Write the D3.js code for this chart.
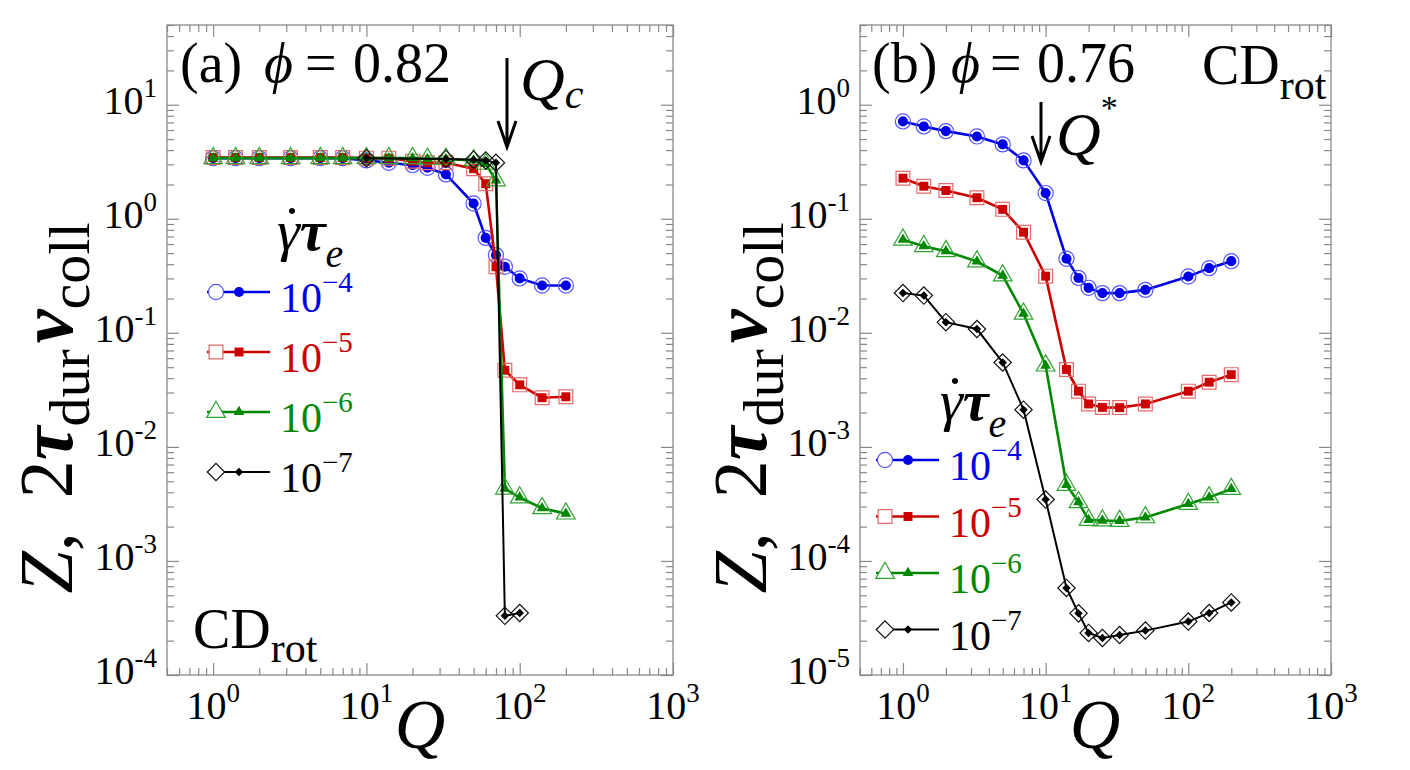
<!DOCTYPE html>
<html>
<head>
<meta charset="utf-8">
<script src="https://cdn.jsdelivr.net/npm/d3@7.9.0/dist/d3.min.js"></script>
<style>
  body { margin: 0; background: #fff; }
  svg, svg text { font-family: "Liberation Serif", "Times New Roman", Times, "DejaVu Serif", serif; }
</style>
</head>
<body>
<svg id="fig" width="1410" height="770"></svg>
<script>
// ---- data ----
const rateExp = ["4", "5", "6", "7"];
const lineColors = ["#0000e6", "#cc0000", "#008800", "#000000"];
const openColors = ["#5555ff", "#e86a6a", "#2fa32f", "#111111"];

// panel (a), phi = 0.82
const qA = [1, 1.4, 2, 3.2, 5, 7, 10, 14, 20, 25, 33, 50, 60, 70, 80, 100, 140, 200];
const qA7 = [10, 33, 50, 60, 70, 80, 100];
const zA4 = [3.4, 3.4, 3.4, 3.4, 3.4, 3.4, 3.25, 3.1, 2.95, 2.8, 2.45, 1.36, 0.68, 0.48, 0.38, 0.30, 0.26, 0.26];
const zA5 = [3.45, 3.45, 3.45, 3.45, 3.45, 3.45, 3.4, 3.4, 3.2, 3.1, 3.1, 2.75, 2.03, 0.38, 0.047, 0.035, 0.027, 0.0275];
const zA6 = [3.4, 3.4, 3.4, 3.4, 3.4, 3.4, 3.4, 3.4, 3.4, 3.35, 3.35, 3.25, 3.03, 2.17, 0.0043, 0.0036, 0.0029, 0.0026];
const zA7 = [3.4, 3.35, 3.3, 3.25, 3.1, 0.00033, 0.00035];

// panel (b), phi = 0.76
const qB = [1, 1.4, 2, 3.3, 5, 7, 10, 14, 17, 20, 25, 33, 50, 100, 140, 200];
const zB4 = [0.714, 0.645, 0.587, 0.527, 0.449, 0.325, 0.168, 0.0446, 0.0303, 0.0248, 0.0223, 0.0223, 0.0238, 0.0312, 0.0369, 0.0425];
const zB5 = [0.227, 0.193, 0.177, 0.153, 0.121, 0.0763, 0.0314, 0.00477, 0.00308, 0.00238, 0.00222, 0.00221, 0.00238, 0.00308, 0.00369, 0.0043];
const zB6 = [0.0655, 0.0575, 0.052, 0.0422, 0.0318, 0.0147, 0.00516, 4.64e-4, 3.27e-4, 2.29e-4, 2.26e-4, 2.24e-4, 2.41e-4, 3.16e-4, 3.61e-4, 4.28e-4];
const zB7 = [0.0223, 0.0212, 0.0124, 0.0108, 0.0055, 0.00212, 3.45e-4, 5.8e-5, 3.47e-5, 2.34e-5, 2.11e-5, 2.24e-5, 2.45e-5, 2.94e-5, 3.5e-5, 4.33e-5];

const xExpLabels = [0, 1, 2, 3];
const yExpLabelsA = [1, 0, -1, -2, -3, -4];
const yExpLabelsB = [0, -1, -2, -3, -4, -5];

const svg = d3.select("#fig");

// marker shapes: open (big, thin outline) and filled (small)
const openSym = [
  d3.symbol(d3.symbolCircle, 180),
  d3.symbol(d3.symbolSquare, 190),
  d3.symbol(d3.symbolTriangle, 150),
  d3.symbol(d3.symbolSquare, 150)
];
const fillSym = [
  d3.symbol(d3.symbolCircle, 80),
  d3.symbol(d3.symbolSquare, 80),
  d3.symbol(d3.symbolTriangle, 50),
  d3.symbol(d3.symbolSquare, 36)
];
const rot = i => (i === 3 ? " rotate(45)" : "");

function minorTicks(domain) {
  const out = [];
  const lo = Math.floor(Math.log10(domain[0]));
  const hi = Math.ceil(Math.log10(domain[1]));
  for (let d = lo; d <= hi; d++) {
    for (let k = 2; k <= 9; k++) {
      const v = k * Math.pow(10, d);
      if (v >= domain[0] && v <= domain[1]) out.push(v);
    }
  }
  return out;
}
function majorTicks(domain) {
  const out = [];
  for (let d = Math.ceil(Math.log10(domain[0])); d <= Math.floor(Math.log10(domain[1])); d++) out.push(Math.pow(10, d));
  return out;
}

function drawPanel(cfg) {
  const x = d3.scaleLog().domain(cfg.xDomain).range([cfg.left, cfg.right]);
  const y = d3.scaleLog().domain(cfg.yDomain).range([cfg.bottom, cfg.top]);
  const g = svg.append("g");

  // tick marks on all four sides, pointing inward
  const axes = [
    [d3.axisBottom(x), `translate(0,${cfg.bottom})`, "x"],
    [d3.axisTop(x), `translate(0,${cfg.top})`, "x"],
    [d3.axisLeft(y), `translate(${cfg.left},0)`, "y"],
    [d3.axisRight(y), `translate(${cfg.right},0)`, "y"]
  ];
  axes.forEach(([ax, tr, dim]) => {
    const dom = dim === "x" ? cfg.xDomain : cfg.yDomain;
    [[minorTicks(dom), 7], [majorTicks(dom), 12]].forEach(([vals, len]) => {
      const a = g.append("g").attr("transform", tr)
        .call(ax.tickValues(vals).tickSizeInner(-len).tickSizeOuter(0).tickFormat(""));
      a.select(".domain").remove();
      a.selectAll("line").attr("stroke", "#888").attr("stroke-width", 1.2);
    });
  });
  g.append("rect")
    .attr("x", cfg.left).attr("y", cfg.top)
    .attr("width", cfg.right - cfg.left).attr("height", cfg.bottom - cfg.top)
    .attr("fill", "none").attr("stroke", "#888").attr("stroke-width", 1.3);

  // tick labels
  xExpLabels.forEach(e => {
    const t = g.append("text").attr("x", x(Math.pow(10, e))).attr("y", cfg.bottom + 44)
      .attr("text-anchor", "middle").attr("font-size", 40).text("10");
    t.append("tspan").attr("font-size", 27).attr("dy", -17).text(e);
  });
  cfg.yLabels.forEach(e => {
    const t = g.append("text").attr("x", cfg.left - 10).attr("y", y(Math.pow(10, e)) + 9)
      .attr("text-anchor", "end").attr("font-size", 40).text("10");
    t.append("tspan").attr("font-size", 27).attr("dy", -17).text(e < 0 ? "-" + (-e) : e);
  });

  // axis titles
  const yt = g.append("text")
    .attr("transform", `translate(${cfg.yTitleX},${cfg.yTitleY}) rotate(-90)`)
    .attr("text-anchor", "middle").attr("font-size", 76);
  yt.append("tspan").attr("font-style", "italic").text("Z");
  yt.append("tspan").text(",");
  yt.append("tspan").attr("dx", 34).text("2");
  yt.append("tspan").attr("font-style", "italic").attr("font-weight", "bold").text("τ");
  yt.append("tspan").attr("font-size", 58).attr("dy", 17).text("dur");
  yt.append("tspan").attr("font-style", "italic").attr("font-weight", "bold").attr("dx", 6).attr("dy", -17).text("ν");
  yt.append("tspan").attr("font-size", 58).attr("dy", 17).text("coll");

  g.append("text").attr("x", cfg.qTitleX).attr("y", 748)
    .attr("text-anchor", "middle").attr("font-size", 70).attr("font-style", "italic").text("Q");

  // data series
  const line = d3.line().x(d => x(d[0])).y(d => y(d[1]));
  cfg.series.forEach((s, i) => {
    const pts = s.q.map((q, j) => [q, s.z[j]]);
    g.append("path").datum(pts).attr("d", line)
      .attr("fill", "none").attr("stroke", lineColors[i])
      .attr("stroke-width", i === 3 ? 2 : 2.6);
    g.selectAll(null).data(pts).join("path")
      .attr("transform", d => `translate(${x(d[0])},${y(d[1])})` + rot(i))
      .attr("d", openSym[i]).attr("fill", "none")
      .attr("stroke", openColors[i]).attr("stroke-width", 1.2);
    g.selectAll(null).data(pts).join("path")
      .attr("transform", d => `translate(${x(d[0])},${y(d[1])})` + rot(i))
      .attr("d", fillSym[i]).attr("fill", lineColors[i]);
  });

  // legend
  const lg = cfg.legend;
  const lt = g.append("text").attr("x", lg.titleX).attr("y", lg.titleY).attr("font-size", 58);
  lt.append("tspan").attr("font-style", "italic").text("γ");
  lt.append("tspan").attr("font-style", "italic").attr("font-weight", "bold").text("τ");
  lt.append("tspan").attr("font-style", "italic").attr("font-size", 40).attr("dy", 17).text("e");
  g.append("text").attr("x", lg.titleX + 15).attr("y", lg.titleY - 4)
    .attr("text-anchor", "middle").attr("font-size", 58).text("˙");

  rateExp.forEach((r, i) => {
    const ry = lg.y0 + i * lg.dy;
    g.append("line").attr("x1", lg.x0).attr("x2", lg.x0 + 63).attr("y1", ry).attr("y2", ry)
      .attr("stroke", lineColors[i]).attr("stroke-width", i === 3 ? 2 : 2.6);
    g.append("path").attr("transform", `translate(${lg.x0 + 9},${ry})` + rot(i))
      .attr("d", openSym[i]).attr("fill", "#fff")
      .attr("stroke", openColors[i]).attr("stroke-width", 1.2);
    g.append("path").attr("transform", `translate(${lg.x0 + 32},${ry})` + rot(i))
      .attr("d", fillSym[i]).attr("fill", lineColors[i]);
    const t = g.append("text").attr("x", lg.x0 + 73).attr("y", ry + 20)
      .attr("font-size", 42).attr("fill", lineColors[i]).text("10");
    t.append("tspan").attr("font-size", 29).attr("dy", -20).text("−" + r);
  });

  return { x, y, g };
}

// ---- panel (a) ----
const pa = drawPanel({
  left: 167, right: 673, top: 25, bottom: 675,
  xDomain: [0.5, 1000], yDomain: [1e-4, 50], yLabels: yExpLabelsA,
  yTitleX: 72, yTitleY: 408, qTitleX: 420,
  series: [
    { q: qA, z: zA4 }, { q: qA, z: zA5 }, { q: qA, z: zA6 }, { q: qA7, z: zA7 }
  ],
  legend: { titleX: 277, titleY: 250, x0: 207, y0: 292, dy: 60 }
});

// ---- panel (b) ----
const pb = drawPanel({
  left: 860, right: 1331, top: 25, bottom: 675,
  xDomain: [0.5, 1000], yDomain: [1e-5, 5], yLabels: yExpLabelsB,
  yTitleX: 766, yTitleY: 408, qTitleX: 1095,
  series: [
    { q: qB, z: zB4 }, { q: qB, z: zB5 }, { q: qB, z: zB6 }, { q: qB, z: zB7 }
  ],
  legend: { titleX: 940, titleY: 420, x0: 876, y0: 460, dy: 56.5 }
});

// ---- annotations ----
function title(g, xs, lab, val) {
  g.append("text").attr("x", xs[0]).attr("y", 82).attr("font-size", 56).text(lab);
  g.append("text").attr("x", xs[1]).attr("y", 82).attr("font-size", 56).attr("font-style", "italic").text("ϕ");
  g.append("text").attr("x", xs[2]).attr("y", 82).attr("font-size", 56).text("=");
  g.append("text").attr("x", xs[3]).attr("y", 82).attr("font-size", 56).text(val);
}
title(pa.g, [180, 264, 305, 353], "(a)", "0.82");
title(pb.g, [872, 951, 990, 1037], "(b)", "0.76");

function arrow(g, ax, y1, y2) {
  g.append("path")
    .attr("d", `M${ax},${y1}V${y2}M${ax - 9},${y2 - 26}L${ax},${y2}L${ax + 9},${y2 - 26}`)
    .attr("fill", "none").attr("stroke", "#000").attr("stroke-width", 3);
}
arrow(pa.g, 507, 58, 147);
const qc = pa.g.append("text").attr("x", 520).attr("y", 100).attr("font-size", 62).attr("font-style", "italic").text("Q");
qc.append("tspan").attr("font-size", 42).attr("dy", 8).text("c");

arrow(pb.g, 1041, 102, 162);
const qs = pb.g.append("text").attr("x", 1056).attr("y", 155).attr("font-size", 62).attr("font-style", "italic").text("Q");
qs.append("tspan").attr("font-style", "normal").attr("font-size", 34).attr("dy", -36).text("*");

function cdrot(g, cx, cy, subY) {
  const t = g.append("text").attr("x", cx).attr("y", cy).attr("font-size", 56).text("CD");
  t.append("tspan").attr("font-size", 42).attr("dy", subY).text("rot");
}
cdrot(pa.g, 193, 648, 14);
cdrot(pb.g, 1202, 84, 15);
</script>
</body>
</html>
